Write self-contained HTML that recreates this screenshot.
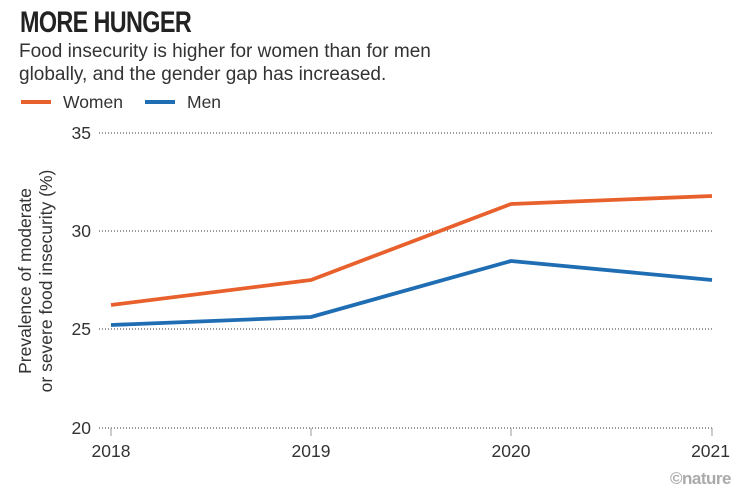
<!DOCTYPE html>
<html><head><style>
body{margin:0;background:#fff;width:751px;height:493px;overflow:hidden;font-family:"Liberation Sans",sans-serif;}
</style></head><body>
<svg width="751" height="493" xmlns="http://www.w3.org/2000/svg" font-family="Liberation Sans, sans-serif">
<text x="25.6" y="32" font-size="30" font-weight="bold" fill="#222" transform="scale(0.78,1)" style="letter-spacing:-0.8px">MORE HUNGER</text>
<text x="19" y="57" font-size="19" fill="#333">Food insecurity is higher for women than for men</text>
<text x="19" y="80" font-size="19" fill="#333">globally, and the gender gap has increased.</text>
<line x1="21" y1="102" x2="51" y2="102" stroke="#e8612c" stroke-width="4"/>
<text x="63" y="108" font-size="17.5" fill="#333">Women</text>
<line x1="145" y1="102" x2="175" y2="102" stroke="#1f6db3" stroke-width="4"/>
<text x="187" y="108" font-size="17.5" fill="#333">Men</text>
<g stroke="#333" stroke-width="1" stroke-dasharray="1,2">
<line x1="99" y1="133" x2="712" y2="133"/>
<line x1="99" y1="231" x2="712" y2="231"/>
<line x1="99" y1="329" x2="712" y2="329"/>
<line x1="99" y1="428" x2="712" y2="428"/>
</g>
<g stroke="#999" stroke-width="1">
<line x1="111" y1="428" x2="111" y2="436"/>
<line x1="311" y1="428" x2="311" y2="436"/>
<line x1="511" y1="428" x2="511" y2="436"/>
<line x1="712" y1="428" x2="712" y2="436"/>
</g>
<g font-size="17.5" fill="#333" text-anchor="end">
<text x="91" y="139">35</text>
<text x="91" y="237">30</text>
<text x="91" y="335">25</text>
<text x="91" y="434">20</text>
</g>
<g font-size="17.5" fill="#333" text-anchor="middle">
<text x="111" y="457">2018</text>
<text x="311" y="457">2019</text>
<text x="511" y="457">2020</text>
<text x="712" y="457" text-anchor="end" dx="18">2021</text>
</g>
<text transform="translate(31,281) rotate(-90)" font-size="17.5" fill="#333" text-anchor="middle">Prevalence of moderate</text>
<text transform="translate(52,281) rotate(-90)" font-size="17.5" fill="#333" text-anchor="middle">or severe food insecurity (%)</text>
<polyline points="111,305 311,280 511,204 712,196" fill="none" stroke="#e8612c" stroke-width="3.8" stroke-linejoin="round"/>
<polyline points="111,325 311,317 511,261 712,280" fill="none" stroke="#1f6db3" stroke-width="3.8" stroke-linejoin="round"/>
<text x="731" y="484" font-size="17" font-weight="bold" fill="#aaa" text-anchor="end" style="letter-spacing:-0.5px">©nature</text>
</svg>
</body></html>
